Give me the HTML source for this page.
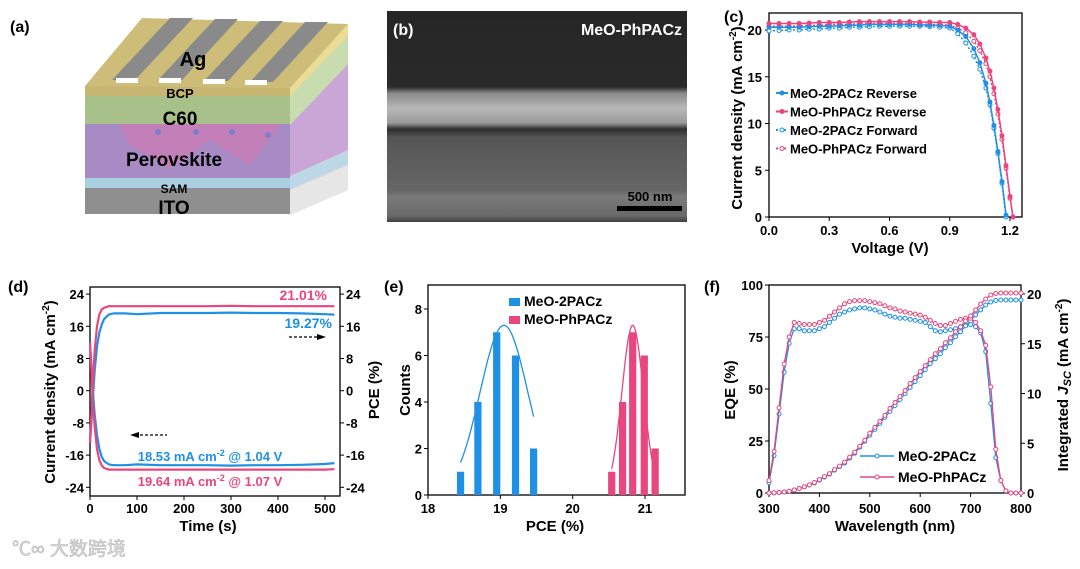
<!DOCTYPE html>
<html><head><meta charset="utf-8"><style>
html,body{margin:0;padding:0;background:#fff;}
svg{display:block;font-family:"Liberation Sans","Noto Sans CJK SC",sans-serif;font-weight:bold;}
</style></head><body>
<svg id="fig" width="1080" height="569" viewBox="0 0 1080 569" xmlns="http://www.w3.org/2000/svg">
<rect width="1080" height="569" fill="#fff"/>
<!-- Panel a -->
<g>
<text x="10" y="32" font-size="16">(a)</text>
<polygon points="290,88 348,24 348,190 290,215" fill="#d4d4d4"/>
<polygon points="290,190 348,165 348,190 290,215" fill="#e6e6e6"/>
<polygon points="290,176 348,151 348,164 290,189" fill="#bcd8e6"/>
<polygon points="290,125 348,64 348,150 290,176" fill="#c9a6d6"/>
<polygon points="290,96 348,36 348,64 290,125" fill="#c9dcb0"/>
<polygon points="290,88 348,24 348,36 290,96" fill="#e8dc96"/>
<rect x="85" y="188" width="205" height="26" fill="#8f8f8f"/>
<rect x="85" y="178" width="205" height="10" fill="#a9cfe0"/>
<rect x="85" y="124" width="205" height="54" fill="#a88bc4"/>
<polygon points="120,125 160,100 200,125 240,100 280,125 250,165 210,140 170,168 130,145" fill="#d67ab0" opacity="0.6"/>
<rect x="85" y="96" width="205" height="28" fill="#a8c08a"/>
<rect x="85" y="86" width="205" height="10" fill="#c6b672"/>
<polygon points="85,86 290,88 348,24 142,18" fill="#cdbd78"/>
<polygon points="112,80 135,80 193,18 170,18" fill="#8a8a8a"/>
<polygon points="158,80 182,80 238,19 215,19" fill="#8a8a8a"/>
<polygon points="204,81 228,81 283,21 260,21" fill="#8a8a8a"/>
<polygon points="250,82 273,82 328,22 305,22" fill="#8a8a8a"/>
<rect x="116" y="78" width="22" height="5" fill="#fff"/>
<rect x="159" y="78" width="22" height="5" fill="#fff"/>
<rect x="203" y="79" width="22" height="5" fill="#fff"/>
<rect x="245" y="80" width="22" height="5" fill="#fff"/>
<circle cx="158" cy="132" r="3" fill="#7b7fc8"/><circle cx="196" cy="132" r="3" fill="#7b7fc8"/><circle cx="232" cy="132" r="3" fill="#7b7fc8"/><circle cx="268" cy="135" r="3" fill="#7b7fc8"/>
<text x="193" y="66" font-size="20" text-anchor="middle">Ag</text>
<text x="180" y="98" font-size="13" text-anchor="middle">BCP</text>
<text x="180" y="125" font-size="19" text-anchor="middle">C60</text>
<text x="174" y="166" font-size="19" text-anchor="middle">Perovskite</text>
<text x="174" y="193" font-size="12" text-anchor="middle">SAM</text>
<text x="174" y="214" font-size="19" text-anchor="middle">ITO</text>
</g>
<!-- Panel b -->
<g>
<defs>
<linearGradient id="semg" x1="0" y1="0" x2="0" y2="1">
<stop offset="0" stop-color="#262626"/><stop offset="0.36" stop-color="#2a2a2a"/>
<stop offset="0.39" stop-color="#8a8a8a"/><stop offset="0.46" stop-color="#b8b8b8"/><stop offset="0.53" stop-color="#9a9a9a"/>
<stop offset="0.56" stop-color="#2e2e2e"/><stop offset="0.6" stop-color="#555"/>
<stop offset="0.85" stop-color="#666"/><stop offset="0.88" stop-color="#7a7a7a"/>
<stop offset="0.97" stop-color="#6a6a6a"/><stop offset="1" stop-color="#404040"/>
</linearGradient></defs>
<rect x="387" y="11" width="300" height="211" fill="url(#semg)"/>
<text x="393" y="35" font-size="16" fill="#fff">(b)</text>
<text x="682" y="35" font-size="16" fill="#fff" text-anchor="end">MeO-PhPACz</text>
<text x="650" y="201" font-size="13" fill="#000" text-anchor="middle">500 nm</text>
<rect x="617" y="206" width="65" height="5" fill="#000"/>
</g>
<text x="724" y="22" font-size="16">(c)</text>
<text x="8" y="292" font-size="16">(d)</text>
<text x="384" y="292" font-size="16">(e)</text>
<text x="704" y="292" font-size="16">(f)</text>
<text x="12" y="555" font-size="19" fill="#d8d8d8" stroke="#bbb" stroke-width="0.6" font-weight="normal">℃∞ 大数跨境</text>
<g id="charts"></g>
</svg>
<script>
// ---------- Panel c: J-V ----------
const jvVoltage = [0,0.05,0.1,0.15,0.2,0.25,0.3,0.35,0.4,0.45,0.5,0.55,0.6,0.65,0.7,0.75,0.8,0.85,0.9,0.94,0.98,1.02,1.05,1.08,1.1,1.12,1.14,1.16,1.18,1.2,1.215];
const jv2PACzReverse = [20.3,20.3,20.3,20.3,20.35,20.4,20.4,20.45,20.5,20.5,20.6,20.6,20.6,20.6,20.6,20.55,20.5,20.5,20.4,20.0,19.3,18.0,16.5,14.3,12.3,9.8,7.0,3.8,0.2,null,null];
const jvPhPACzReverse = [20.7,20.7,20.7,20.7,20.75,20.8,20.8,20.8,20.85,20.9,20.9,20.9,20.9,20.9,20.9,20.85,20.85,20.8,20.8,20.6,20.2,19.5,18.5,17.0,15.6,13.8,11.5,8.7,5.5,2.2,0];
const jv2PACzForward = [19.9,19.95,20.0,20.0,20.1,20.1,20.2,20.2,20.3,20.3,20.35,20.4,20.4,20.4,20.4,20.4,20.35,20.3,20.2,19.6,18.6,17.2,15.8,13.8,12.0,9.5,6.8,3.6,0,null,null];
const jvPhPACzForward = [20.4,20.4,20.4,20.45,20.5,20.5,20.6,20.6,20.6,20.7,20.7,20.7,20.7,20.7,20.7,20.65,20.6,20.6,20.5,20.2,19.7,18.8,17.8,16.4,15.0,13.2,11.0,8.3,5.2,2.0,0];
const jvXTicks = ["0.0","0.3","0.6","0.9","1.2"];
const jvYTicks = [0,5,10,15,20];
// ---------- Panel d: stabilized output ----------
const spoTime = [0,3,6,10,15,20,25,30,40,50,75,100,150,200,250,300,350,400,450,500,520];
const spoPCEPh = [-13,-6,2,10,16,19,20.2,20.6,21.0,21.0,21.0,21.0,21.0,21.0,21.0,21.1,21.0,21.0,21.0,21.0,21.0];
const spoPCE2P = [-13,-8,-2,5,11,14.5,16.5,17.8,18.9,19.2,19.2,19.0,19.3,19.3,19.3,19.4,19.3,19.3,19.2,19.0,18.9];
const spoJPh = [12,5,-2,-9,-14.5,-17.3,-18.6,-19.2,-19.6,-19.6,-19.6,-19.6,-19.6,-19.6,-19.6,-19.6,-19.6,-19.6,-19.6,-19.6,-19.5];
const spoJ2P = [12,6,0,-6,-11,-14.5,-16.5,-17.5,-18.3,-18.5,-18.5,-18.3,-18.5,-18.5,-18.5,-18.6,-18.5,-18.5,-18.4,-18.2,-18.0];
const spoXTicks = [0,100,200,300,400,500];
const spoYTicks = [24,16,8,0,-8,-16,-24];
// ---------- Panel e: histogram ----------
const histBins2P = [18.45,18.69,18.95,19.21,19.46];
const histCounts2P = [1,4,7,6,2];
const histBinsPh = [20.54,20.69,20.83,20.99,21.14];
const histCountsPh = [1,4,7,6,2];
const fitParams2P = [19.05,7.3,0.33]; // mean, amplitude, sigma
const fitParamsPh = [20.83,7.3,0.15];
const histXTicks = [18,19,20,21];
const histYTicks = [0,2,4,6,8];
// ---------- Panel f: EQE ----------
const eqeWavelength = [300,310,320,330,340,350,360,370,380,390,400,410,420,430,440,450,460,470,480,490,500,510,520,530,540,550,560,570,580,590,600,610,620,630,640,650,660,670,680,690,700,710,720,730,740,750,760,770,780,790,800];
const eqe2P = [5,18,38,58,72,79,79,78,78,78,79,80,82,84,86,87,88,88.5,89,89,88.5,88,87,86,85,84.5,84,84,83.5,83,82.5,82,80,78,77.5,78,78.5,79,80,80.5,81,80,77,68,43,17,6,1,0,0,0];
const eqePh = [6,20,41,62,75,82,81.5,81,81,81,82,83,85,87,89,91,92,92.5,92.5,92.5,92,91.5,91,90,89,88.5,87.5,87,86.5,86,85.5,84.5,83,81.5,80.5,80.5,81.5,82.5,83.5,84,84,82,78,71,51,21,6,1,0,0,0];
const jsc2P = [0,0.02,0.05,0.1,0.18,0.3,0.45,0.62,0.8,1.0,1.3,1.6,1.9,2.3,2.65,3.0,3.5,4.0,4.6,5.2,5.8,6.4,7.0,7.6,8.2,8.8,9.4,10.0,10.6,11.2,11.8,12.4,13.0,13.5,14.0,14.6,15.1,15.7,16.2,16.8,17.3,17.9,18.4,18.9,19.2,19.35,19.4,19.4,19.4,19.4,19.4];
const jscPh = [0,0.02,0.05,0.1,0.18,0.3,0.45,0.63,0.82,1.05,1.35,1.65,1.95,2.35,2.7,3.1,3.6,4.1,4.7,5.3,6.0,6.6,7.2,7.8,8.5,9.1,9.7,10.3,11.0,11.6,12.2,12.8,13.4,14.0,14.5,15.1,15.6,16.2,16.7,17.3,17.8,18.4,19.0,19.5,19.9,20.05,20.1,20.1,20.1,20.1,20.1];
const eqeXTicks = [300,400,500,600,700,800];
const eqeYTicks = [0,25,50,75,100];
const jscYTicks = [0,5,10,15,20];

const BLUE = "#1e90e6", PINK = "#e8467c", NS = "http://www.w3.org/2000/svg";
const root = document.getElementById('charts');
function mk(tag, attrs, parent) {
  const el = document.createElementNS(NS, tag);
  for (const k in attrs) el.setAttribute(k, attrs[k]);
  (parent || root).appendChild(el);
  return el;
}
function lin(d0, d1, r0, r1) { return v => r0 + (v - d0) * (r1 - r0) / (d1 - d0); }
function txt(x, y, s, size, anchor, parent, extra) {
  const t = mk('text', Object.assign({x: x, y: y, 'font-size': size, 'text-anchor': anchor || 'middle'}, extra || {}), parent);
  t.textContent = s;
  return t;
}
function pathFrom(xs, ys, sx, sy) {
  let d = "";
  xs.forEach((x, i) => { if (ys[i] === null) return; d += (d ? "L" : "M") + sx(x).toFixed(1) + "," + sy(ys[i]).toFixed(1); });
  return d;
}
function frame(g, x0, y0, x1, y1) {
  const r = mk('rect', {x: x0, y: y0, width: x1 - x0, height: y1 - y0, fill: 'none', stroke: '#000', 'stroke-width': 1.3}, g);
  
  
}
function rotTitle(x, y, s, size, g, name) {
  const t = txt(x, y, s, size, 'middle', g, {transform: 'rotate(-90 ' + x + ' ' + y + ')'});
  
  
  return t;
}

// ===== Panel c =====
(function () {
  const g = mk('g', {});
  
  
  const sx = lin(0, 1.2, 769, 1010), sy = lin(0, 20, 217, 30);
  frame(g, 769, 13, 1022, 217);
  jvXTicks.forEach(t => {
    const v = parseFloat(t);
    mk('line', {x1: sx(v), x2: sx(v), y1: 217, y2: 221, stroke: '#000'}, g);
    const l = txt(sx(v), 235, t, 13, 'middle', g);
    
    
  });
  jvYTicks.forEach(v => {
    mk('line', {x1: 765, x2: 769, y1: sy(v), y2: sy(v), stroke: '#000'}, g);
    const l = txt(762, sy(v) + 5, String(v), 13, 'end', g);
    
    
  });
  const xt = txt(890, 253, 'Voltage (V)', 15, 'middle', g);
  
  
  const yt = rotTitle(742, 118, 'Current density (mA cm', 15, g, 'y-axis-title');
  const sup = mk('tspan', {dy: -6, 'font-size': 10}, yt); sup.textContent = '-2';
  const cl = mk('tspan', {dy: 6}, yt); cl.textContent = ')';
  const series = [
    [jv2PACzForward, BLUE, true, 'series-meo-2pacz-forward'],
    [jvPhPACzForward, PINK, true, 'series-meo-phpacz-forward'],
    [jv2PACzReverse, BLUE, false, 'series-meo-2pacz-reverse'],
    [jvPhPACzReverse, PINK, false, 'series-meo-phpacz-reverse']];
  series.forEach(s => {
    const sg = mk('g', {}, g);
    
    
    mk('path', {d: pathFrom(jvVoltage, s[0], sx, sy), fill: 'none', stroke: s[1], 'stroke-width': 1.5, 'stroke-dasharray': s[2] ? '2 2' : 'none'}, sg);
    jvVoltage.forEach((v, i) => {
      if (s[0][i] === null) return;
      const c = mk('circle', {cx: sx(v), cy: sy(s[0][i]), r: 2, fill: s[2] ? '#fff' : s[1], stroke: s[1], 'stroke-width': 1}, sg);
      
      
    });
  });
  const leg = [['MeO-2PACz Reverse', BLUE, false], ['MeO-PhPACz  Reverse', PINK, false], ['MeO-2PACz Forward', BLUE, true], ['MeO-PhPACz  Forward', PINK, true]];
  leg.forEach((e, i) => {
    const y = 93 + i * 18.5;
    const lg = mk('g', {}, g);
    
    
    mk('line', {x1: 776, x2: 788, y1: y, y2: y, stroke: e[1], 'stroke-width': 2, 'stroke-dasharray': e[2] ? '2 2' : 'none'}, lg);
    mk('circle', {cx: 782, cy: y, r: 2, fill: e[2] ? '#fff' : e[1], stroke: e[1]}, lg);
    txt(790, y + 5, e[0], 13, 'start', lg);
  });
})();

// ===== Panel d =====
(function () {
  const g = mk('g', {});
  
  
  const sx = lin(0, 500, 90, 325), sy = lin(0, 8, 390.7, 358.5);
  frame(g, 90, 287, 340, 496);
  spoXTicks.forEach(v => {
    mk('line', {x1: sx(v), x2: sx(v), y1: 496, y2: 500, stroke: '#000'}, g);
    const l = txt(sx(v), 513, String(v), 13, 'middle', g);
    
    
  });
  spoYTicks.forEach(v => {
    mk('line', {x1: 86, x2: 90, y1: sy(v), y2: sy(v), stroke: '#000'}, g);
    mk('line', {x1: 340, x2: 344, y1: sy(v), y2: sy(v), stroke: '#000'}, g);
    const l = txt(84, sy(v) + 5, String(v), 13, 'end', g);
    
    
    const r = txt(346, sy(v) + 5, String(v), 13, 'start', g);
    
    
  });
  const xt = txt(208, 531, 'Time (s)', 15, 'middle', g);
  
  
  const yt = rotTitle(55, 392, 'Current density (mA cm', 15, g, 'left-y-axis-title');
  const sup = mk('tspan', {dy: -6, 'font-size': 10}, yt); sup.textContent = '-2';
  const cl = mk('tspan', {dy: 6}, yt); cl.textContent = ')';
  rotTitle(379, 390, 'PCE (%)', 15, g, 'right-y-axis-title');
  [[spoJ2P, BLUE, 'series-2pacz-current'], [spoJPh, PINK, 'series-phpacz-current'], [spoPCE2P, BLUE, 'series-2pacz-pce'], [spoPCEPh, PINK, 'series-phpacz-pce']].forEach(s => {
    const p = mk('path', {d: pathFrom(spoTime, s[0], sx, sy), fill: 'none', stroke: s[1], 'stroke-width': 2.2, 'stroke-linejoin': 'round'}, g);
    
    
  });
  const a = txt(327, 300, '21.01%', 14, 'end', g, {fill: PINK});  
  const b = txt(332, 328, '19.27%', 14, 'end', g, {fill: BLUE});  
  mk('line', {x1: 289, x2: 318, y1: 337, y2: 337, stroke: '#000', 'stroke-width': 1.3, 'stroke-dasharray': '3 2'}, g);
  mk('polygon', {points: '326,337 317,334 317,340', fill: '#000'}, g);
  mk('line', {x1: 140, x2: 167, y1: 435, y2: 435, stroke: '#000', 'stroke-width': 1.3, 'stroke-dasharray': '3 2'}, g);
  mk('polygon', {points: '130,435 139,432 139,438', fill: '#000'}, g);
  const c = txt(210, 461, '18.53 mA cm', 13, 'middle', g, {fill: BLUE});
   
  let t1 = mk('tspan', {dy: -5, 'font-size': 9}, c); t1.textContent = '-2';
  let t2 = mk('tspan', {dy: 5}, c); t2.textContent = ' @ 1.04 V';
  const d = txt(210, 486, '19.64 mA cm', 13, 'middle', g, {fill: PINK});
   
  t1 = mk('tspan', {dy: -5, 'font-size': 9}, d); t1.textContent = '-2';
  t2 = mk('tspan', {dy: 5}, d); t2.textContent = ' @ 1.07 V';
})();

// ===== Panel e =====
(function () {
  const g = mk('g', {});
  
  
  const sx = lin(18, 21, 428, 645), sy = lin(0, 8, 495, 309);
  frame(g, 428, 285, 685, 495);
  histXTicks.forEach(v => {
    mk('line', {x1: sx(v), x2: sx(v), y1: 495, y2: 499, stroke: '#000'}, g);
    const l = txt(sx(v), 513, String(v), 13, 'middle', g);
    
    
  });
  histYTicks.forEach(v => {
    mk('line', {x1: 424, x2: 428, y1: sy(v), y2: sy(v), stroke: '#000'}, g);
    const l = txt(422, sy(v) + 5, String(v), 13, 'end', g);
    
    
  });
  const xt = txt(555, 531, 'PCE (%)', 15, 'middle', g);
  
  
  rotTitle(410, 390, 'Counts', 15, g, 'y-axis-title');
  const bw = 0.1;
  [[histBins2P, histCounts2P, BLUE, 'bar-2pacz'], [histBinsPh, histCountsPh, PINK, 'bar-phpacz']].forEach(s => {
    s[0].forEach((b, i) => {
      const r = mk('rect', {x: sx(b - bw / 2), y: sy(s[1][i]), width: sx(b + bw / 2) - sx(b - bw / 2), height: sy(0) - sy(s[1][i]), fill: s[2]}, g);
      
      
    });
  });
  [[fitParams2P, histBins2P, BLUE, 'fit-2pacz'], [fitParamsPh, histBinsPh, PINK, 'fit-phpacz']].forEach(s => {
    const lo = s[1][0], hi = s[1][s[1].length - 1];
    let d = "";
    for (let k = 0; k <= 40; k++) {
      const x = lo + (hi - lo) * k / 40;
      const y = s[0][1] * Math.exp(-Math.pow(x - s[0][0], 2) / (2 * s[0][2] * s[0][2]));
      d += (k ? "L" : "M") + sx(x).toFixed(1) + "," + sy(y).toFixed(1);
    }
    const p = mk('path', {d: d, fill: 'none', stroke: s[2], 'stroke-width': 1.3}, g);
    
    
  });
  [['MeO-2PACz', BLUE, 302], ['MeO-PhPACz', PINK, 320]].forEach(e => {
    const lg = mk('g', {}, g);
    
    
    mk('rect', {x: 509, y: e[2] - 4, width: 11, height: 8, fill: e[1]}, lg);
    txt(524, e[2] + 4, e[0], 14, 'start', lg);
  });
})();

// ===== Panel f =====
(function () {
  const g = mk('g', {});
  
  
  const sx = lin(300, 800, 769, 1021), sy = lin(0, 100, 493, 285), sj = lin(0, 20, 493, 294);
  frame(g, 769, 285, 1021, 493);
  eqeXTicks.forEach(v => {
    mk('line', {x1: sx(v), x2: sx(v), y1: 493, y2: 497, stroke: '#000'}, g);
    const l = txt(sx(v), 513, String(v), 13, 'middle', g);
    
    
  });
  eqeYTicks.forEach(v => {
    mk('line', {x1: 765, x2: 769, y1: sy(v), y2: sy(v), stroke: '#000'}, g);
    const l = txt(763, sy(v) + 5, String(v), 13, 'end', g);
    
    
  });
  jscYTicks.forEach(v => {
    mk('line', {x1: 1021, x2: 1025, y1: sj(v), y2: sj(v), stroke: '#000'}, g);
    const l = txt(1027, sj(v) + 5, String(v), 13, 'start', g);
    
    
  });
  const xt = txt(895, 531, 'Wavelength (nm)', 15, 'middle', g);
  
  
  rotTitle(735, 390, 'EQE (%)', 15, g, 'left-y-axis-title');
  const rt = rotTitle(1068, 385, 'Integrated ', 15, g, 'right-y-axis-title');
  let ts = mk('tspan', {'font-style': 'italic'}, rt); ts.textContent = 'J';
  ts = mk('tspan', {'font-style': 'italic', 'font-size': 11, dy: 3}, rt); ts.textContent = 'SC';
  ts = mk('tspan', {dy: -3}, rt); ts.textContent = ' (mA cm';
  ts = mk('tspan', {dy: -6, 'font-size': 10}, rt); ts.textContent = '-2';
  ts = mk('tspan', {dy: 6}, rt); ts.textContent = ')';
  [[eqe2P, sy, BLUE, 'series-eqe-2pacz'], [jsc2P, sj, BLUE, 'series-jsc-2pacz'], [eqePh, sy, PINK, 'series-eqe-phpacz'], [jscPh, sj, PINK, 'series-jsc-phpacz']].forEach(s => {
    const sg = mk('g', {}, g);
    
    
    mk('path', {d: pathFrom(eqeWavelength, s[0], sx, s[1]), fill: 'none', stroke: s[2], 'stroke-width': 1.3}, sg);
    eqeWavelength.forEach((w, i) => {
      const c = mk('circle', {cx: sx(w), cy: s[1](s[0][i]), r: 2, fill: '#fff', stroke: s[2], 'stroke-width': 1}, sg);
      
      
    });
  });
  [['MeO-2PACz', BLUE, 456], ['MeO-PhPACz', PINK, 477]].forEach(e => {
    const lg = mk('g', {}, g);
    
    
    mk('line', {x1: 860, x2: 894, y1: e[2], y2: e[2], stroke: e[1], 'stroke-width': 1.5}, lg);
    mk('circle', {cx: 877, cy: e[2], r: 2, fill: '#fff', stroke: e[1]}, lg);
    txt(898, e[2] + 5, e[0], 14, 'start', lg);
  });
})();
</script>
</body></html>
